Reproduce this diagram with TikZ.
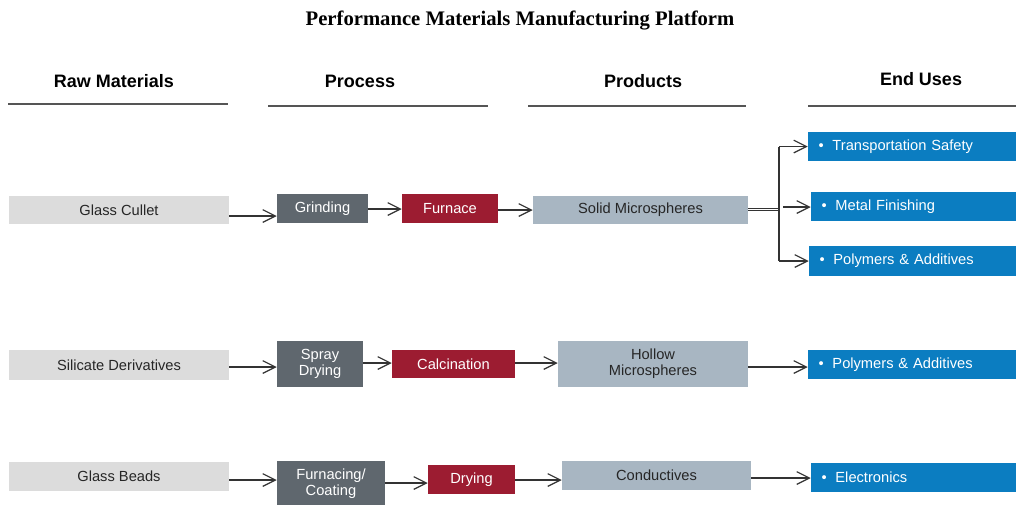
\documentclass[tikz,border=0pt]{standalone}
\usepackage{fontspec}
\setmainfont{Liberation Sans}
\newfontfamily\titlefont{Liberation Serif}
\usetikzlibrary{arrows.meta,calc}
\definecolor{rawgray}{HTML}{DCDCDC}
\definecolor{procgray}{HTML}{5F676E}
\definecolor{procred}{HTML}{9C1C31}
\definecolor{prodgray}{HTML}{A8B6C2}
\definecolor{useblue}{HTML}{0B7DC1}
\definecolor{rulegray}{HTML}{555555}
\definecolor{linkgray}{HTML}{333333}
\tikzset{
  box/.style={inner sep=0pt, align=center, font=\fontsize{11}{13}\selectfont},
  rawbox/.style={box, fill=rawgray, text=black!85},
  procbox/.style={box, fill=procgray, text=white},
  redbox/.style={box, fill=procred, text=white},
  prodbox/.style={box, fill=prodgray, text=black!85},
  usebox/.style={box, fill=useblue, text=white, text width=#1, minimum width=#1, align=left},
  header/.style={font=\bfseries\fontsize{13.5}{16}\selectfont},
  rule/.style={draw=rulegray, line width=1.1pt},
  link/.style={draw=linkgray, line width=0.9pt, -{Straight Barb[length=9.5pt,width=9.5pt]}},
  plain/.style={draw=linkgray, line width=0.9pt},
}
\newcommand{\usetext}[1]{\hspace*{8pt}•\hspace{6.5pt}#1}
\begin{document}
\begin{tikzpicture}[x=0.75pt,y=-0.75pt]
\useasboundingbox (0,0) rectangle (1016,504);
\fill[white] (0,0) rectangle (1016,504);

% title
\node (title) at (520,20.5) {\titlefont\bfseries\fontsize{15.5}{18}\selectfont Performance Materials Manufacturing Platform};

% column headers and rules
\node[header] (hraw) at (114,81) {Raw Materials};
\node[header] (hproc) at (360,81) {Process};
\node[header] (hprod) at (643,81) {Products};
\node[header] (huse) at (921,79) {End Uses};
\coordinate (r1a) at (8,104);   \coordinate (r1b) at (228,104);
\coordinate (r2a) at (268,106); \coordinate (r2b) at (488,106);
\coordinate (r3a) at (528,106); \coordinate (r3b) at (746,106);
\coordinate (r4a) at (808,106); \coordinate (r4b) at (1016,106);
\draw[rule] (r1a) -- (r1b);
\draw[rule] (r2a) -- (r2b);
\draw[rule] (r3a) -- (r3b);
\draw[rule] (r4a) -- (r4b);

% row 1: glass cullet
\node[rawbox, minimum width=165pt, minimum height=21pt] (gc) at (119,210) {Glass Cullet};
\node[procbox, minimum width=68.25pt, minimum height=21.75pt] (grind) at (322.5,208.5) {Grinding};
\node[redbox, minimum width=72pt, minimum height=21.75pt] (furn) at (450,208.5) {Furnace};
\node[prodbox, minimum width=161.25pt, minimum height=21pt] (solid) at (640.5,210) {Solid Microspheres};
\node[usebox=156pt, minimum height=21.75pt] (ts) at (912,146.5) {\usetext{Transportation Safety}};
\node[usebox=153.75pt, minimum height=21.75pt] (mf) at (913.5,206.5) {\usetext{Metal Finishing}};
\node[usebox=155.25pt, minimum height=22.5pt] (pa1) at (912.5,261) {\usetext{Polymers \& Additives}};

\draw[link] ($(gc.east)+(0,6)$) -- ($(grind.west)+(0,7.5)$);
\draw[link] ($(furn.west)+(-34,0.5)$) -- ($(furn.west)+(0,0.5)$);
\draw[link] ($(furn.east)+(0,1.5)$) -- ($(solid.west)+(0,0)$);
\coordinate (split) at (779,209);
\draw[plain] ($(solid.east)+(0,-1.7)$) -- ($(split)+(0,-0.7)$);
\draw[plain] ($(solid.east)+(0,0.3)$) -- ($(split)+(0,1.3)$);
\draw[plain] (split |- ts.west) -- (split |- pa1.west);
\draw[link] (split |- ts.west) -- (ts.west);
\draw[link] ($(split)+(4,-2)$) -- ($(mf.west)+(0,0.5)$);
\draw[link] (split |- pa1.west) -- (pa1.west);

% row 2: silicate derivatives
\node[rawbox, minimum width=165pt, minimum height=22.5pt] (sil) at (119,365) {Silicate Derivatives};
\node[procbox, minimum width=64.5pt, minimum height=34.5pt] (spray) at (320,364) {Spray\\[-1pt]Drying};
\node[redbox, minimum width=92.25pt, minimum height=21pt] (calc) at (453.5,364) {Calcination};
\node[prodbox, minimum width=142.5pt, minimum height=34.5pt] (hollow) at (653,364) {Hollow\\[-1pt]Microspheres};
\node[usebox=156pt, minimum height=21.75pt] (pa2) at (912,364.5) {\usetext{Polymers \& Additives}};

\draw[link] ($(sil.east)+(0,2)$) -- ($(spray.west)+(0,3)$);
\draw[link] ($(spray.east)+(0,-1)$) -- ($(calc.west)+(0,-1)$);
\draw[link] ($(calc.east)+(0,-1)$) -- ($(hollow.west)+(0,-1)$);
\draw[link] ($(hollow.east)+(0,3)$) -- ($(pa2.west)+(0,2.5)$);

% row 3: glass beads
\node[rawbox, minimum width=165pt, minimum height=21.75pt] (beads) at (119,476.5) {Glass Beads};
\node[procbox, minimum width=81pt, minimum height=34.5pt] (furnc) at (331,484) {Furnacing/\\[-1pt]Coating};
\node[redbox, minimum width=65.25pt, minimum height=21.75pt] (dry) at (471.5,479.5) {Drying};
\node[prodbox, minimum width=141.75pt, minimum height=21.75pt] (cond) at (656.5,475.5) {Conductives};
\node[usebox=153.75pt, minimum height=21.75pt] (elec) at (913.5,477.5) {\usetext{Electronics}};

\draw[link] ($(beads.east)+(0,3.5)$) -- ($(furnc.west)+(0,-4)$);
\draw[link] ($(furnc.east)+(0,-1)$) -- ($(dry.west)+(0,3.5)$);
\draw[link] ($(dry.east)+(0,0.5)$) -- ($(cond.west)+(0,4.5)$);
\draw[link] ($(cond.east)+(0,2.5)$) -- ($(elec.west)+(0,0.5)$);
\end{tikzpicture}
\end{document}
